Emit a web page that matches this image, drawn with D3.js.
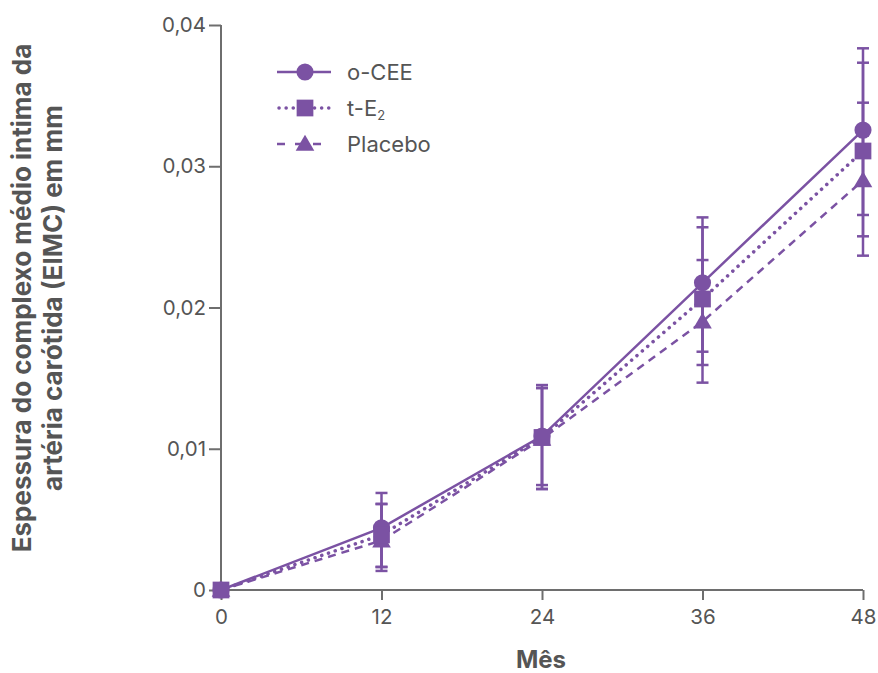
<!DOCTYPE html>
<html><head><meta charset="utf-8">
<script src="https://cdn.jsdelivr.net/npm/d3@7"></script>
<style>body{margin:0;background:#fff}svg text{font-family:Inter,"Noto Sans",sans-serif}</style>
</head><body><svg id="c" width="878" height="673"></svg>
<script>
const months = [0, 12, 24, 36, 48];
const xTicks = [0, 12, 24, 36, 48];
const yTicks = [0, 0.01, 0.02, 0.03, 0.04];
const yTickLabels = ["0", "0,01", "0,02", "0,03", "0,04"];
const seriesNames = ["o-CEE", "t-E2", "Placebo"];
const oceeMean = [0, 0.0044, 0.0109, 0.02175, 0.03256];
const oceeLow  = [0, 0.00163, 0.00743, 0.01687, 0.02655];
const oceeHigh = [0, 0.00687, 0.01451, 0.02638, 0.03835];
const te2Mean  = [0, 0.0039, 0.0108, 0.0206, 0.03108];
const te2Low   = [0, 0.00135, 0.00715, 0.01593, 0.02504];
const te2High  = [0, 0.00609, 0.0143, 0.02568, 0.03733];
const plaMean  = [0, 0.0035, 0.0107, 0.0190, 0.0290];
const plaLow   = [0, 0.00163, 0.00715, 0.01468, 0.02367];
const plaHigh  = [0, 0.00609, 0.0143, 0.02336, 0.0345];

const purple = "#7b52a3", axisCol = "#6e6e6e", textCol = "#555";
const svg = d3.select("#c");
const x = d3.scaleLinear().domain([0, 48]).range([221, 863]);
const y = d3.scaleLinear().domain([0, 0.04]).range([590, 25]);

const series = [
  {name: seriesNames[0], mean: oceeMean, low: oceeLow, high: oceeHigh, dash: null, sym: d3.symbolCircle, size: 230},
  {name: seriesNames[2], mean: plaMean, low: plaLow, high: plaHigh, dash: "8 6", sym: d3.symbolTriangle, size: 150},
  {name: seriesNames[1], mean: te2Mean, low: te2Low, high: te2High, dash: "0.1 7", sym: d3.symbolSquare, size: 280}
];

// axes
const yAxis = d3.axisLeft(y).tickValues(yTicks).tickFormat((d,i)=>yTickLabels[i]).tickSize(12).tickPadding(3);
const xAxis = d3.axisBottom(x).tickValues(xTicks).tickSize(10).tickPadding(9);
const gy = svg.append("g").attr("transform","translate(221,0)").call(yAxis);
const gx = svg.append("g").attr("transform","translate(0,590)").call(xAxis);
[gx, gy].forEach(g=>{
  g.select(".domain").attr("stroke", axisCol).attr("stroke-width", 2);
  g.selectAll(".tick line").attr("stroke", axisCol).attr("stroke-width", 2);
  g.selectAll(".tick text").attr("fill", textCol).style("font-size","20.5px");
});
gx.select(".domain").attr("d","M221,0H863");
gy.select(".domain").attr("d","M0,590V25");

// lines
const line = d3.line().x((d,i)=>x(months[i])).y(d=>y(d));
series.forEach(s=>{
  svg.append("path").attr("d", line(s.mean)).attr("fill","none").attr("stroke",purple)
    .attr("stroke-width", s.dash && s.dash.startsWith("0.1") ? 3.5 : 2.5)
    .attr("stroke-dasharray", s.dash).attr("stroke-linecap", s.dash && s.dash.startsWith("0.1") ? "round" : "butt");
});

// error bars
series.forEach(s=>{
  months.forEach((m,i)=>{
    if (s.high[i] === s.low[i]) return;
    const gx0 = x(m);
    svg.append("line").attr("x1",gx0).attr("x2",gx0).attr("y1",y(s.low[i])).attr("y2",y(s.high[i]))
      .attr("stroke",purple).attr("stroke-width",2.5);
    [s.low[i], s.high[i]].forEach(v=>{
      svg.append("line").attr("x1",gx0-6).attr("x2",gx0+6).attr("y1",y(v)).attr("y2",y(v))
        .attr("stroke",purple).attr("stroke-width",2.5);
    });
  });
});

// markers
series.forEach(s=>{
  const sym = d3.symbol().type(s.sym).size(s.size);
  months.forEach((m,i)=>{
    svg.append("path").attr("d", sym()).attr("fill", purple)
      .attr("transform", `translate(${x(m)},${y(s.mean[i]) + (s.sym===d3.symbolTriangle ? 1.5 : 0)})`);
  });
});

// legend
const legend = [
  {label: "o-CEE", dash: null, sym: d3.symbolCircle, size: 230, w: 2.5, cap: "butt"},
  {label: "t-E", sub: "2", dash: "0.1 7", sym: d3.symbolSquare, size: 280, w: 3.5, cap: "round"},
  {label: "Placebo", dash: "8 10", sym: d3.symbolTriangle, size: 150, w: 2.5, cap: "butt"}
];
legend.forEach((l,i)=>{
  const ly = 72 + i*36;
  svg.append("line").attr("x1", l.cap==="round"?279:277).attr("x2",331).attr("y1",ly).attr("y2",ly)
    .attr("stroke",purple).attr("stroke-width",l.w).attr("stroke-dasharray",l.dash).attr("stroke-linecap",l.cap);
  svg.append("path").attr("d", d3.symbol().type(l.sym).size(l.size)()).attr("fill",purple)
    .attr("transform",`translate(305,${ly + (l.sym===d3.symbolTriangle?1.5:0)})`);
  const t = svg.append("text").attr("x",347).attr("y",ly+8).attr("fill",textCol).style("font-size","22px").text(l.label);
  if (l.sub) t.append("tspan").attr("dy",4).style("font-size","13px").text(l.sub);
});

// titles
svg.append("text").attr("x",541).attr("y",668).attr("text-anchor","middle").attr("fill",textCol)
  .style("font-size","24px").style("font-weight","bold").text("Mês");
const yt = svg.append("text").attr("transform","translate(0,298) rotate(-90)").attr("text-anchor","middle")
  .attr("fill",textCol).style("font-size","26px").style("font-weight","bold");
yt.append("tspan").attr("x",0).attr("y",31).text("Espessura do complexo médio intima da");
yt.append("tspan").attr("x",0).attr("y",62).text("artéria carótida (EIMC) em mm");
</script></body></html>
